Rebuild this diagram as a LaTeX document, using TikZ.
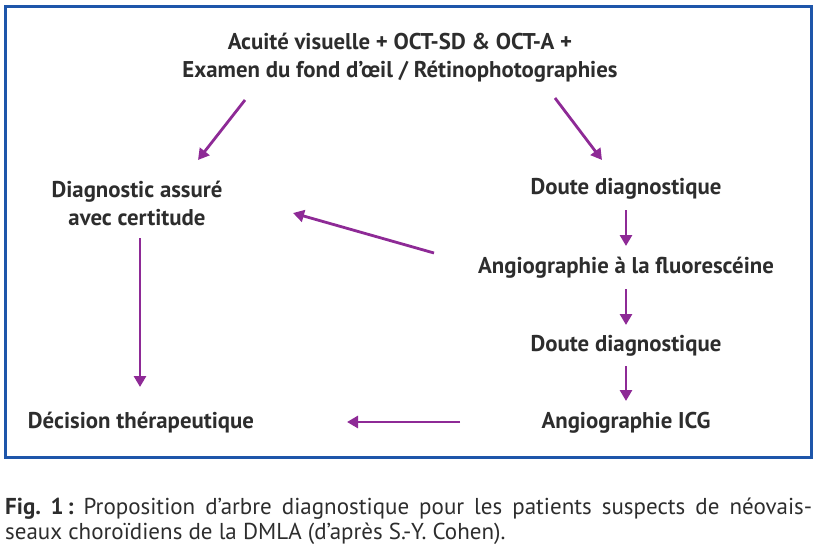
\documentclass[tikz,border=0pt]{standalone}
\usepackage{fontspec}
\setmainfont{PT Sans}
\usepackage{tikz}
\usetikzlibrary{arrows.meta}
\definecolor{frameblue}{RGB}{30,86,170}
\definecolor{arrowpurple}{RGB}{142,42,150}
\definecolor{textgray}{RGB}{45,45,45}
\tikzset{
	step text/.style={inner sep=0pt, text=textgray, font=\fontsize{22.8}{28}\selectfont\bfseries, align=center},
	flow arrow/.style={arrowpurple, line width=2.8pt, -{Triangle[width=12pt,length=11pt]}}
}

\begin{document}
\begin{tikzpicture}[x=1pt, y=-1pt]
						\useasboundingbox (0,0) rectangle (819,546);
						\draw[frameblue, line width=3pt] (5,6) rectangle (811,457);
						
						\node[step text] (exam) at (400,58) {Acuité visuelle + OCT-SD \& OCT-A +\\Examen du fond d’œil / Rétinophotographies};
						\node[step text] (sure) at (137,203) {Diagnostic assuré\\avec certitude};
						\node[step text] (doubta) at (626,189) {Doute diagnostique};
						\node[step text] (fluo) at (626,268) {Angiographie à la fluorescéine};
						\node[step text] (doubtb) at (626,346) {Doute diagnostique};
						\node[step text] (icg) at (626,423) {Angiographie ICG};
						\node[step text] (decision) at (141,423) {Décision thérapeutique};
						
						\draw[flow arrow] ([shift={(-155,42)}]exam.center) -- ([shift={(61,-43)}]sure.center);
						\draw[flow arrow] ([shift={(155,40)}]exam.center) -- ([shift={(-24,-29)}]doubta.center);
						\draw[flow arrow] ([shift={(0,21)}]doubta.center) -- ([shift={(0,-22)}]fluo.center);
						\draw[flow arrow] ([shift={(0,21)}]fluo.center) -- ([shift={(0,-21)}]doubtb.center);
						\draw[flow arrow] ([shift={(0,20)}]doubtb.center) -- ([shift={(0,-22)}]icg.center);
						\draw[flow arrow] ([shift={(-192,-15)}]fluo.center) -- ([shift={(156,10)}]sure.center);
						\draw[flow arrow] ([shift={(3,35)}]sure.center) -- ([shift={(-1,-36)}]decision.center);
						\draw[flow arrow] ([shift={(-166,-1)}]icg.center) -- ([shift={(206,-1)}]decision.center);
						
						% legende
						\node[anchor=north west, inner sep=0pt, text width=807pt, align=justify, text=textgray,
							font=\fontsize{23}{25}\selectfont] (caption) at (5,498)
							{\hyphenpenalty=10000\relax\frenchspacing\textbf{Fig.~1\,:} Proposition d’arbre diagnostique pour les patients suspects de néovais-\linebreak seaux choroïdiens de la DMLA (d’après S.-Y. Cohen).};
					\end{tikzpicture}
\end{document}
